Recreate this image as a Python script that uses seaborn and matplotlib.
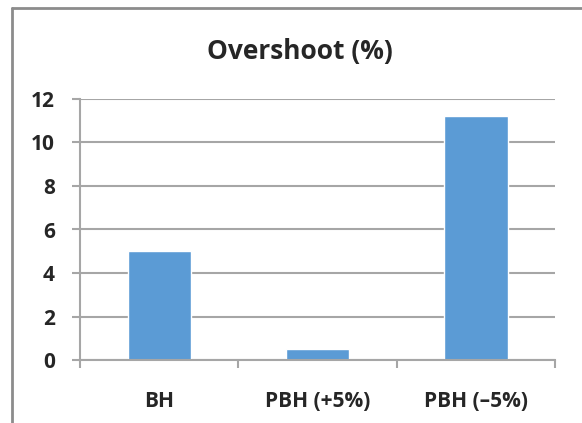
import matplotlib
matplotlib.use("Agg")
import matplotlib.pyplot as plt
import seaborn as sns
from matplotlib.lines import Line2D

# Chart data
categories = ["BH", "PBH (+5%)", "PBH (–5%)"]
overshoot = [5.0, 0.5, 11.2]
y_ticks = [0, 2, 4, 6, 8, 10, 12]

sns.set_style("white")
plt.rcParams['font.family'] = ['Open Sans', 'DejaVu Sans']

fig = plt.figure(figsize=(5.82, 4.23), dpi=100)
ax = fig.add_axes([80/582, 1-360/423, (555-80)/582, (360-99)/423])

sns.barplot(x=categories, y=overshoot, color="#5B9BD5", width=0.4,
            saturation=1, ax=ax)

grey = "#a6a6a6"
ax.set_ylim(0, 12)
ax.set_xlim(-0.5, 2.5)
ax.set_yticks(y_ticks)
ax.set_yticklabels([str(t) for t in y_ticks], fontsize=15, fontweight="bold")
ax.yaxis.grid(True, color=grey, linewidth=1.5)
ax.set_axisbelow(True)

for s in ["top", "right"]:
    ax.spines[s].set_visible(False)
for s in ["left", "bottom"]:
    ax.spines[s].set_color(grey)
    ax.spines[s].set_linewidth(1.5)

ax.tick_params(axis="y", length=6, width=1.5, color=grey, pad=12, left=True)
ax.tick_params(axis="x", which="major", length=0, pad=22)
ax.set_xticks([-0.5, 0.5, 1.5, 2.5], minor=True)
ax.tick_params(axis="x", which="minor", length=6, width=1.5, color=grey, bottom=True)
for lbl in ax.get_xticklabels():
    lbl.set_fontsize(15)
    lbl.set_fontweight("bold")

fig.text(300/582, 1-51/423, "Overshoot (%)", ha="center", va="center",
         fontsize=19, fontweight="bold")

# chart frame (top and left edges visible)
fig.add_artist(Line2D([12/582, 1], [1-8/423, 1-8/423], color="#8c8c8c", linewidth=2))
fig.add_artist(Line2D([12/582, 12/582], [0, 1-8/423], color="#8c8c8c", linewidth=2))

fig.savefig("out.png", dpi=100)
